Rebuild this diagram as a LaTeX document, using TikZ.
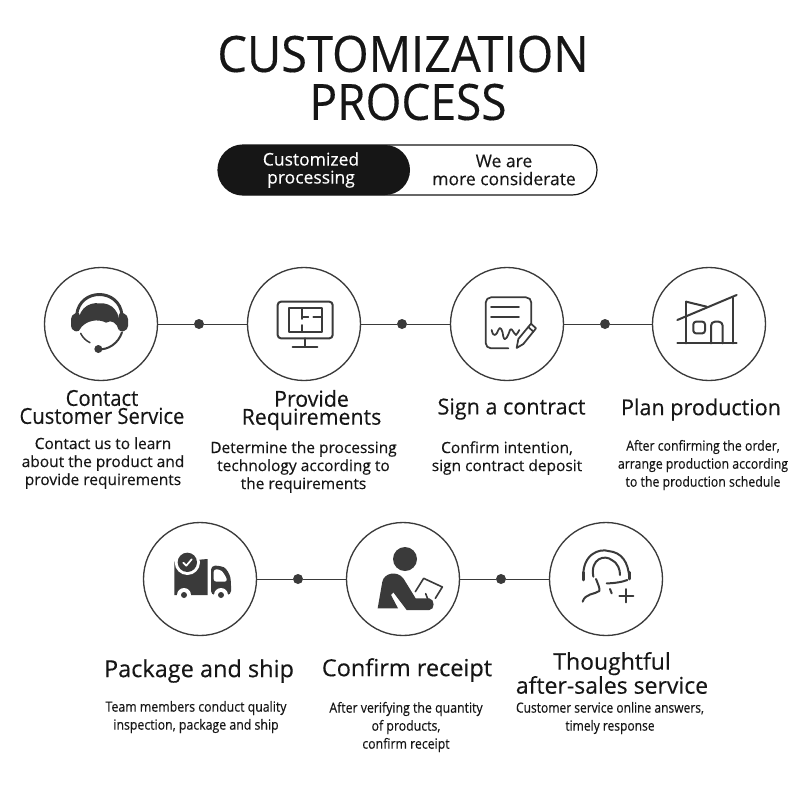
\documentclass[tikz,border=0pt]{standalone}
\usepackage{fontspec}
\setmainfont{Open Sans}
\newcommand{\fs}[2]{\fontsize{\dimexpr #1pt*3/4\relax}{\dimexpr #2pt*3/4\relax}\selectfont}
\newcommand{\fw}[1]{\fontspec[FakeStretch=#1,FakeBold=0.25]{Open Sans}}
\definecolor{ink}{HTML}{3A3A3A}
\definecolor{blk}{HTML}{161616}
\tikzset{
  stepcircle/.style={circle,draw=ink,line width=1pt,minimum size=84.75pt,inner sep=0pt,fill=white},
  linkdot/.style={circle,fill=ink,minimum size=7.5pt,inner sep=0pt},
  link/.style={draw=ink,line width=0.75pt},
  titletext/.style={text=blk,align=center,inner sep=0pt},
  heading/.style={text=blk,align=center,inner sep=0pt},
  body/.style={text=blk,align=center,inner sep=0pt},
  iconline/.style={draw=ink,line width=1.5pt,line cap=round,line join=round},
  iconthin/.style={draw=ink,line width=1.1pt,line cap=round,line join=round},
  zoomed/.style={x=0.25pt,y=-0.25pt},
}
\begin{document}
\begin{tikzpicture}[x=0.75pt,y=-0.75pt]
\useasboundingbox (0,0) rectangle (800,800);
\fill[white] (0,0) rectangle (800,800);
% title
\node[titletext,font={\fw{0.94}\fs{50}{48}}] (t1) at (403,54) {CUSTOMIZATION};
\node[titletext,font={\fw{0.92}\fs{50}{48}}] (t2) at (408,102) {PROCESS};
% pill
\draw[blk,line width=0.9pt,fill=white,rounded corners=18.75pt] (218,145) rectangle (597,195);
\fill[blk,rounded corners=18.75pt] (218,145) rectangle (410,195);
\node[titletext,text=white,font={\fw{1.0}\fs{17.5}{18}}] (p1) at (311,170) {Customized\\processing};
\node[titletext,font={\fw{1.0}\fs{17.5}{18}}] (p2) at (504,170) {We are\\more considerate};
% row 1
\node[stepcircle] (c1) at (101,324) {};
\node[stepcircle] (c2) at (304,324) {};
\node[stepcircle] (c3) at (507,324) {};
\node[stepcircle] (c4) at (709,324) {};
\node[linkdot] (d1) at (199,324) {};
\node[linkdot] (d2) at (402,324) {};
\node[linkdot] (d3) at (605,324) {};
\draw[link] (c1) -- (d1); \draw[link] (d1) -- (c2);
\draw[link] (c2) -- (d2); \draw[link] (d2) -- (c3);
\draw[link] (c3) -- (d3); \draw[link] (d3) -- (c4);
% row 2
\node[stepcircle] (c5) at (200,579) {};
\node[stepcircle] (c6) at (403,579) {};
\node[stepcircle] (c7) at (606,579) {};
\node[linkdot] (d5) at (298,579) {};
\node[linkdot] (d6) at (501,579) {};
\draw[link] (c5) -- (d5); \draw[link] (d5) -- (c6);
\draw[link] (c6) -- (d6); \draw[link] (d6) -- (c7);
% icons row 1 left
\begin{scope}[shift={(30,255)},zoomed]
  % headset
  \draw[iconline,line width=2.2pt,line cap=butt] (140,180) .. controls (148,98) and (268,98) .. (276,180);
  \fill[ink] (148,225) .. controls (135,165) and (175,140) .. (208,145)
     .. controls (245,142) and (276,170) .. (266,225)
     .. controls (262,205) and (245,192) .. (228,203)
     .. controls (205,190) and (165,195) .. (148,225) -- cycle;
  \fill[ink,rounded corners=3pt] (123,180) -- (150,170) -- (150,232) -- (123,225) -- cycle;
  \fill[ink,rounded corners=3pt] (266,170) -- (294,180) -- (294,225) -- (266,232) -- cycle;
  \draw[iconthin] (152,235) .. controls (158,248) and (168,257) .. (180,263);
  \draw[iconline] (205,283) .. controls (235,285) and (265,265) .. (276,232);
  \fill[ink] (205,282) circle (12);
  % monitor
  \draw[iconline,rounded corners=2.5pt] (743,140) rectangle (908,250);
  \draw[iconline] (777,160) rectangle (875,232);
  \draw[iconline] (825,250) -- (825,275);
  \draw[iconline] (788,275) -- (862,275);
  \draw[iconthin,line width=1.3pt] (817,162) -- (817,192);
  \draw[iconthin,line width=1.3pt] (817,210) -- (817,230);
  \draw[iconthin,line width=1.3pt] (817,187) -- (835,187);
  \draw[iconthin,line width=1.3pt] (850,187) -- (873,187);
\end{scope}
\begin{scope}[shift={(400,255)},zoomed]
  % contract
  \draw[iconthin,line width=1.3pt,rounded corners=4pt] (394,205) -- (394,127) -- (257,127) -- (257,280) -- (325,280);
  \draw[iconthin,line width=1.3pt] (273,157) -- (357,157);
  \draw[iconthin,line width=1.3pt] (273,187) -- (357,187);
  \draw[iconthin,line width=1.3pt] (275,225) .. controls (280,250) and (290,240) .. (295,225)
     .. controls (300,210) and (308,225) .. (310,245)
     .. controls (315,265) and (325,240) .. (330,225)
     .. controls (335,215) and (340,235) .. (348,240) .. controls (352,235) and (356,230) .. (358,225);
  \draw[iconthin,line width=1.3pt] (350,279) -- (355,252) -- (393,206) -- (408,220) -- (370,267) -- cycle;
  \draw[iconthin,line width=1.3pt] (385,216) -- (400,230);
  % house
  \draw[iconline] (832,265) -- (1010,265);
  \draw[iconline] (832,195) -- (1010,120);
  \draw[iconline] (858,140) -- (858,265);
  \draw[iconline] (998,128) -- (998,265);
  \draw[iconline] (858,140) -- (920,155);
  \draw[iconline,rounded corners=2pt] (880,200) rectangle (915,235);
  \draw[iconline,rounded corners=3pt] (933,265) -- (933,200) -- (968,200) -- (968,265);
\end{scope}
% icons row 2
\begin{scope}[shift={(130,515)},zoomed]
  % truck
  \fill[ink] (133,140) -- (233,132) -- (233,240) -- (133,240) -- cycle;
  \fill[white] (172,142) circle (38);
  \fill[ink] (172,142) circle (29);
  \draw[white,line width=1.3pt,line cap=round,line join=round] (160,143) -- (169,152) -- (185,133);
  \fill[ink,rounded corners=3pt] (243,152) -- (270,152) .. controls (290,160) and (300,180) .. (303,200) -- (303,240) -- (243,240) -- cycle;
  \fill[white,rounded corners=2pt] (251,163) -- (268,163) .. controls (280,172) and (288,185) .. (292,200) -- (251,200) -- cycle;
  \fill[white] (162,240) circle (21);
  \fill[ink] (162,240) circle (9);
  \fill[white] (273,240) circle (21);
  \fill[ink] (273,240) circle (9);
  % person
  \fill[ink] (825,132) circle (36);
  \fill[ink] (743,280) -- (757,200) .. controls (762,175) and (800,165) .. (820,190)
    -- (857,250) -- (898,250) .. controls (915,252) and (915,285) .. (898,285)
    -- (830,285) -- (790,232) -- (783,240) -- (804,280) -- cycle;
  \draw[iconline,line width=1.2pt] (856,230) -- (881,190) -- (937,216) -- (916,250);
  \draw[iconline,line width=1.2pt] (887,236) -- (894,254);
\end{scope}
\begin{scope}[shift={(540,515)},zoomed]
  % support agent with plus
  \draw[iconline] (130,192) .. controls (125,115) and (180,100) .. (205,108)
     .. controls (245,112) and (265,140) .. (268,190);
  \draw[iconline] (160,185) .. controls (150,130) and (195,118) .. (215,135)
     .. controls (235,145) and (240,165) .. (240,180);
  \draw[iconline,line width=2.2pt] (130,172) -- (130,195);
  \draw[iconline,line width=2.2pt] (268,172) -- (268,192);
  \draw[iconline] (200,205) .. controls (225,205) and (250,200) .. (262,195);
  \draw[iconline] (168,192) .. controls (175,210) and (180,220) .. (178,228)
     .. controls (165,238) and (135,235) .. (128,260);
  \draw[iconline] (210,222) -- (215,235);
  \draw[iconline] (258,222) -- (258,262);
  \draw[iconline] (238,242) -- (280,242);
\end{scope}
% row 1 texts
\node[heading,font={\fw{0.92}\fs{22}{18}}] (h1) at (102,407) {Contact\\Customer Service};
\node[heading,font={\fw{0.97}\fs{22}{18}}] (h2) at (311.5,410) {Provide\\Requirements};
\node[heading,font={\fw{0.98}\fs{22}{18}}] (h3) at (511.5,409) {Sign a contract};
\node[heading,font={\fw{0.98}\fs{22}{18}}] (h4) at (701,409.5) {Plan production};
\node[body,font={\fw{1.0}\fs{15.5}{18}}] (b1) at (103,463) {Contact us to learn\\about the product and\\provide requirements};
\node[body,font={\fw{1.0}\fs{15.5}{18}}] (b2) at (303.5,467) {Determine the processing\\technology according to\\the requirements};
\node[body,font={\fw{1.0}\fs{15.5}{18}}] (b3) at (507,458) {Confirm intention,\\sign contract deposit};
\node[body,font={\fw{0.88}\fs{14}{18}}] (b4) at (703,465) {After confirming the order,\\arrange production according\\to the production schedule};
% row 2 texts
\node[heading,font={\fw{1.0}\fs{23.5}{24}}] (h5) at (199,671) {Package and ship};
\node[heading,font={\fw{1.0}\fs{23.5}{24}}] (h6) at (407,670) {Confirm receipt};
\node[heading,font={\fw{1.0}\fs{23}{24}}] (h7) at (612,673) {Thoughtful\\after-sales service};
\node[body,font={\fw{0.88}\fs{14}{18}}] (b5) at (196,717) {Team members conduct quality\\inspection, package and ship};
\node[body,font={\fw{0.88}\fs{14}{18}}] (b6) at (406,727) {After verifying the quantity\\of products,\\confirm receipt};
\node[body,font={\fw{0.86}\fs{14}{18}}] (b7) at (610,718) {Customer service online answers,\\timely response};
\end{tikzpicture}
\end{document}
